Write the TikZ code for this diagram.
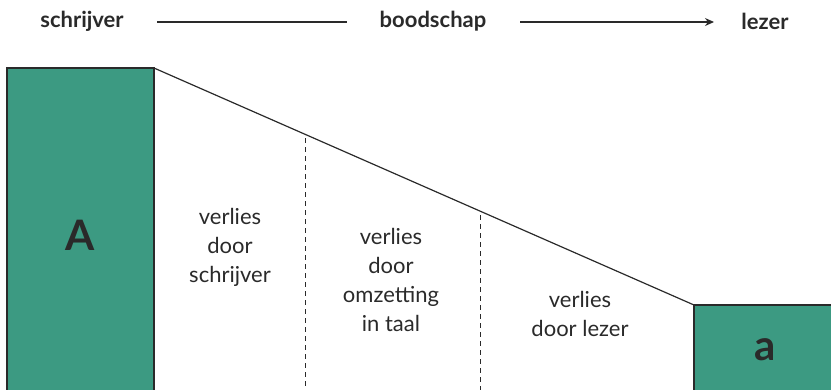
\documentclass[tikz,border=0pt]{standalone}
\usepackage{fontspec}
\setmainfont{Lato}
\usetikzlibrary{arrows.meta,calc}
\definecolor{boxgreen}{HTML}{3C9A82}
\definecolor{ink}{HTML}{2A2A2A}
\begin{document}
\begin{tikzpicture}[x=1pt,y=-1pt,
  head/.style={font=\bfseries\fontsize{22}{26}\selectfont, text=ink, inner sep=0pt},
  lossbox/.style={font=\fontsize{22}{29}\selectfont, text=ink, align=center, inner sep=0pt},
  block/.style={fill=boxgreen, draw=ink, line width=1.2pt},
  bigletter/.style={font=\bfseries\fontsize{42}{46}\selectfont, text=ink, inner sep=0pt},
  divider/.style={draw=ink, dash pattern=on 5pt off 4pt, line width=0.8pt}]
\useasboundingbox (0,0) rectangle (831,389);
\clip (0,0) rectangle (831,389);
% top labels
\node[head] (schr) at (82,21) {schrijver};
\node[head] (bood) at (433,21) {boodschap};
\node[head] (lez) at (765,21) {lezer};
\coordinate (m1) at (157,22);
\coordinate (m2) at (347,22);
\coordinate (m3) at (520,22);
\coordinate (m4) at (714,22);
\draw[ink, line width=1.2pt] (m1) -- (m2);
\draw[ink, line width=1.2pt, -{Stealth[length=9pt,width=8pt]}] (m3) -- (m4);
% blocks
\draw[block] (7,68) rectangle (154,400);
\draw[block] (694,305) rectangle (840,400);
\coordinate (Atr) at (154,68);
\coordinate (atl) at (694,305);
\draw[ink, line width=1.2pt] (Atr) -- (atl);
% dividers
\draw[divider] (305,138) -- (305,395);
\draw[divider] (480,215) -- (480,395);
% letters
\node[bigletter] (A) at (80,235) {A};
\node[bigletter] (a) at (765,350) {a};
% loss labels
\node[lossbox] (l1) at (230,247) {verlies\\door\\schrijver};
\node[lossbox] (l2) at (391,280) {verlies\\door\\omzetting\\in taal};
\node[lossbox] (l3) at (580,314) {verlies\\door lezer};
\end{tikzpicture}
\end{document}
